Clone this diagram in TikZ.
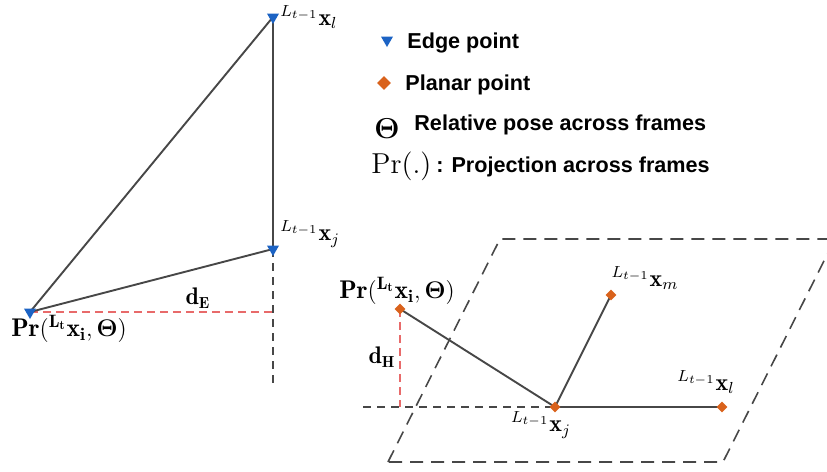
\documentclass[tikz,border=0pt]{standalone}
\usepackage{amsmath}
\usepackage{fontspec}
\usetikzlibrary{shapes.geometric}
\newfontfamily\legfont{Liberation Sans}
\definecolor{edgeblue}{HTML}{1C63C4}
\definecolor{planarorange}{HTML}{D9621C}
\definecolor{linegray}{HTML}{474747}
\definecolor{dashred}{HTML}{E86A6A}
\tikzset{
  edgemark/.style={regular polygon, regular polygon sides=3, shape border rotate=180,
    fill=edgeblue, draw=none, inner sep=0pt, minimum size=#1},
  edgemark/.default=7pt,
  planarmark/.style={diamond, fill=planarorange, draw=none, inner sep=0pt, minimum size=#1},
  planarmark/.default=5.5pt,
  solidline/.style={draw=linegray, line width=0.95pt},
  graydash/.style={draw=linegray, line width=0.8pt, dash pattern=on 4pt off 3pt},
  planedash/.style={draw=linegray, line width=0.8pt, dash pattern=on 6.5pt off 4pt},
  reddash/.style={draw=dashred, line width=0.8pt, dash pattern=on 4pt off 2.5pt},
  mathlabel/.style={inner sep=1pt, font=\large},
  prlabel/.style={inner sep=1pt, font=\fontsize{12.8}{15}\selectfont},
  legtext/.style={inner sep=0pt, anchor=west, font=\legfont\bfseries\fontsize{10.8}{12}\selectfont},
}
\begin{document}
\begin{tikzpicture}[x=0.5pt, y=-0.5pt]
\path[use as bounding box] (0,0) rectangle (827,472);
% ---------- left (edge) ----------
\coordinate (Lxl) at (273,17);
\coordinate (Lxj) at (273,249);
\coordinate (Lpr) at (30,312);
\coordinate (Lfoot) at (273,312);
\coordinate (Lend) at (273,387);
\draw[graydash] (Lxj) -- (Lend);
\draw[reddash] (Lpr) -- (Lfoot);
\draw[solidline] (Lpr) -- (Lxl);
\draw[solidline] (Lxl) -- (Lxj);
\draw[solidline] (Lpr) -- (Lxj);
\node[edgemark] (mLxl) at (Lxl) {};
\node[edgemark] (mLxj) at (Lxj) {};
\node[edgemark] (mLpr) at (Lpr) {};
\node[mathlabel, anchor=west] (tLxl) at (278,17) {${}^{L_{t-1}}\mathbf{x}_l$};
\node[mathlabel, anchor=west] (tLxj) at (278,234) {${}^{L_{t-1}}\mathbf{x}_j$};
\node[prlabel] (tLpr) at (69,329) {$\mathbf{Pr}({}^{\mathbf{L_t}}\mathbf{x_i},\boldsymbol{\Theta})$};
\node[mathlabel] (tdE) at (198,298) {$\mathbf{d_E}$};
% ---------- legend ----------
\node[edgemark=7pt] (legE) at (387,40) {};
\node[legtext] (legEt) at (407,43) {Edge point};
\node[planarmark=7pt] (legP) at (384,83) {};
\node[legtext] (legPt) at (405,85) {Planar point};
\node[inner sep=0pt, font=\Large] (legT) at (387,129) {$\boldsymbol{\Theta}$};
\node[legtext] (legTt) at (414,125) {Relative pose across frames};
\node[inner sep=0pt, anchor=west, font=\Large] (legPr) at (371,166) {$\mathrm{Pr}(.)$};
\node[legtext] (legPrt) at (436,167) {: Projection across frames};
% ---------- right (planar) ----------
\coordinate (P1) at (388,462);
\coordinate (P2) at (500,239);
\coordinate (P3) at (835,239);
\coordinate (P4) at (723,462);
\begin{scope}
\clip (0,0) rectangle (827,472);
\draw[planedash] (P1) -- (P2) -- (P3) -- (P4) -- cycle;
\end{scope}
\coordinate (Rxj) at (555,407);
\coordinate (Rxl) at (722,407);
\coordinate (Rxm) at (611,295);
\coordinate (Rpr) at (400,309);
\coordinate (Rfoot) at (400,407);
\coordinate (Rstart) at (363,407);
\draw[graydash] (Rstart) -- (Rxj);
\draw[reddash] (Rpr) -- (Rfoot);
\draw[solidline] (Rpr) -- (Rxj);
\draw[solidline] (Rxj) -- (Rxm);
\draw[solidline] (Rxj) -- (Rxl);
\node[planarmark] (mRxj) at (Rxj) {};
\node[planarmark] (mRxl) at (Rxl) {};
\node[planarmark] (mRxm) at (Rxm) {};
\node[planarmark] (mRpr) at (Rpr) {};
\node[mathlabel] (tRxj) at (541,425) {${}^{L_{t-1}}\mathbf{x}_j$};
\node[mathlabel] (tRxl) at (706,382) {${}^{L_{t-1}}\mathbf{x}_l$};
\node[mathlabel] (tRxm) at (645,278) {${}^{L_{t-1}}\mathbf{x}_m$};
\node[prlabel] (tRpr) at (397,291) {$\mathbf{Pr}({}^{\mathbf{L_t}}\mathbf{x_i},\boldsymbol{\Theta})$};
\node[mathlabel] (tdH) at (382,357) {$\mathbf{d_H}$};
\end{tikzpicture}
\end{document}
